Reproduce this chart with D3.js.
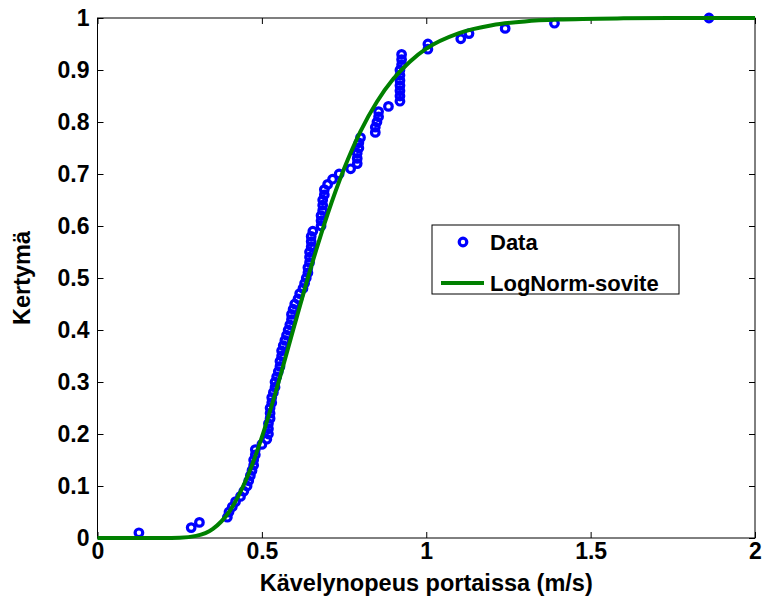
<!DOCTYPE html>
<html>
<head>
<meta charset="utf-8">
<script src="https://cdn.jsdelivr.net/npm/d3@7"></script>
<style>
  body { margin: 0; background: #fff; }
  text { font-family: "Liberation Sans", Arial, sans-serif; font-weight: bold; }
</style>
</head>
<body>
<div id="chart"></div>
<script>
// measured speeds (m/s), sorted, one per observation
const dataX = [
  0.126, 0.285, 0.31, 0.395, 0.40, 0.41, 0.42, 0.435, 0.445, 0.455,
  0.46, 0.465, 0.47, 0.475, 0.475, 0.48, 0.48, 0.50, 0.515, 0.52,
  0.52, 0.52, 0.525, 0.525, 0.525, 0.53, 0.53, 0.535, 0.54, 0.54,
  0.545, 0.55, 0.555, 0.555, 0.56, 0.56, 0.565, 0.57, 0.575, 0.58,
  0.585, 0.59, 0.59, 0.595, 0.60, 0.61, 0.615, 0.625, 0.63, 0.635,
  0.64, 0.64, 0.645, 0.645, 0.645, 0.65, 0.65, 0.65, 0.655, 0.68,
  0.68, 0.68, 0.685, 0.685, 0.685, 0.69, 0.69, 0.70, 0.715, 0.735,
  0.77, 0.79, 0.79, 0.79, 0.795, 0.795, 0.80, 0.845, 0.845, 0.85,
  0.855, 0.855, 0.885, 0.92, 0.92, 0.92, 0.92, 0.92, 0.92, 0.92,
  0.925, 0.925, 0.925, 1.005, 1.005, 1.105, 1.13, 1.24, 1.39, 1.86
];
// empirical cumulative values
const dataY = [
  0.01, 0.02, 0.03, 0.04, 0.05, 0.06, 0.07, 0.08, 0.09, 0.10,
  0.11, 0.12, 0.13, 0.14, 0.15, 0.16, 0.17, 0.18, 0.19, 0.20,
  0.21, 0.22, 0.23, 0.24, 0.25, 0.26, 0.27, 0.28, 0.29, 0.30,
  0.31, 0.32, 0.33, 0.34, 0.35, 0.36, 0.37, 0.38, 0.39, 0.40,
  0.41, 0.42, 0.43, 0.44, 0.45, 0.46, 0.47, 0.48, 0.49, 0.50,
  0.51, 0.52, 0.53, 0.54, 0.55, 0.56, 0.57, 0.58, 0.59, 0.60,
  0.61, 0.62, 0.63, 0.64, 0.65, 0.66, 0.67, 0.68, 0.69, 0.70,
  0.71, 0.72, 0.73, 0.74, 0.75, 0.76, 0.77, 0.78, 0.79, 0.80,
  0.81, 0.82, 0.83, 0.84, 0.85, 0.86, 0.87, 0.88, 0.89, 0.90,
  0.91, 0.92, 0.93, 0.94, 0.95, 0.96, 0.97, 0.98, 0.99, 1.00
];

// fitted lognormal curve
const fitX = [0, 0.2, 0.25, 0.3, 0.35, 0.4, 0.45, 0.5, 0.55, 0.6, 0.65, 0.7, 0.75,
              0.8, 0.85, 0.9, 0.95, 1.0, 1.1, 1.2, 1.3, 1.4, 1.6, 1.8, 2.0];
const fitY = [0, 0, 0.0005, 0.004, 0.017, 0.05, 0.109, 0.194, 0.298, 0.411, 0.522, 0.623, 0.71,
              0.782, 0.839, 0.883, 0.916, 0.941, 0.971, 0.986, 0.9934, 0.9969, 0.9993, 1.0, 1.0];

const xTicks = [0, 0.5, 1, 1.5, 2];
const xTickLabels = ["0", "0.5", "1", "1.5", "2"];
const yTicks = [0, 0.1, 0.2, 0.3, 0.4, 0.5, 0.6, 0.7, 0.8, 0.9, 1];
const yTickLabels = ["0", "0.1", "0.2", "0.3", "0.4", "0.5", "0.6", "0.7", "0.8", "0.9", "1"];

const seriesNames = ["Data", "LogNorm-sovite"];
const xLabel = "Kävelynopeus portaissa (m/s)";
const yLabel = "Kertymä";

const width = 762, height = 606;
const blue = "#0000ff", green = "#008000";

const svg = d3.select("#chart").append("svg")
  .attr("width", width).attr("height", height);

const x = d3.scaleLinear().domain([0, 2]).range([97.5, 755]);
const y = d3.scaleLinear().domain([0, 1]).range([538, 18]);

// axes with inward ticks
const tick = 6;
svg.append("g").attr("transform", `translate(0,${y(0)})`)
  .call(d3.axisBottom(x).tickValues(xTicks).tickSize(-tick).tickSizeOuter(0).tickPadding(5)
    .tickFormat((d, i) => xTickLabels[i]))
  .call(g => g.select(".domain").remove());
svg.append("g").attr("transform", `translate(0,${y(1)})`)
  .call(d3.axisTop(x).tickValues(xTicks).tickSize(-tick).tickSizeOuter(0).tickFormat(""))
  .call(g => g.select(".domain").remove());
svg.append("g").attr("transform", `translate(${x(0)},0)`)
  .call(d3.axisLeft(y).tickValues(yTicks).tickSize(-tick).tickSizeOuter(0).tickPadding(8)
    .tickFormat((d, i) => yTickLabels[i]))
  .call(g => g.select(".domain").remove());
svg.append("g").attr("transform", `translate(${x(2)},0)`)
  .call(d3.axisRight(y).tickValues(yTicks).tickSize(-tick).tickSizeOuter(0).tickFormat(""))
  .call(g => g.select(".domain").remove());

svg.selectAll(".tick text").attr("font-size", 23).attr("fill", "#000");
svg.selectAll(".tick line").attr("stroke", "#000");

svg.append("rect")
  .attr("x", x(0)).attr("y", y(1))
  .attr("width", x(2) - x(0)).attr("height", y(0) - y(1))
  .attr("fill", "none").attr("stroke", "#000").attr("stroke-width", 1);

// data markers
svg.append("g").selectAll("circle")
  .data(dataX.map((d, i) => [d, dataY[i]]))
  .join("circle")
  .attr("cx", d => x(d[0])).attr("cy", d => y(d[1]))
  .attr("r", 3.8)
  .attr("fill", "none").attr("stroke", blue).attr("stroke-width", 3.2);

// fitted curve
const line = d3.line().x(d => x(d[0])).y(d => y(d[1])).curve(d3.curveMonotoneX);
svg.append("path")
  .datum(fitX.map((d, i) => [d, fitY[i]]))
  .attr("d", line)
  .attr("fill", "none").attr("stroke", green).attr("stroke-width", 4);

// axis labels
svg.append("text")
  .attr("x", (x(0) + x(2)) / 2).attr("y", 591)
  .attr("text-anchor", "middle").attr("font-size", 23.5)
  .text(xLabel);
svg.append("text")
  .attr("transform", `translate(30,${(y(0) + y(1)) / 2}) rotate(-90)`)
  .attr("text-anchor", "middle").attr("font-size", 23.5)
  .text(yLabel);

// legend
const lg = svg.append("g");
lg.append("rect")
  .attr("x", 432).attr("y", 225).attr("width", 247).attr("height", 69)
  .attr("fill", "#fff").attr("stroke", "#000").attr("stroke-width", 1);
lg.append("circle")
  .attr("cx", 463).attr("cy", 242).attr("r", 3.8)
  .attr("fill", "none").attr("stroke", blue).attr("stroke-width", 3.2);
lg.append("line")
  .attr("x1", 441).attr("x2", 484).attr("y1", 283).attr("y2", 283)
  .attr("stroke", green).attr("stroke-width", 4);
lg.selectAll("text.lab")
  .data(seriesNames)
  .join("text")
  .attr("class", "lab")
  .attr("x", 490).attr("y", (d, i) => 250 + i * 41)
  .attr("font-size", 22)
  .text(d => d);
</script>
</body>
</html>
